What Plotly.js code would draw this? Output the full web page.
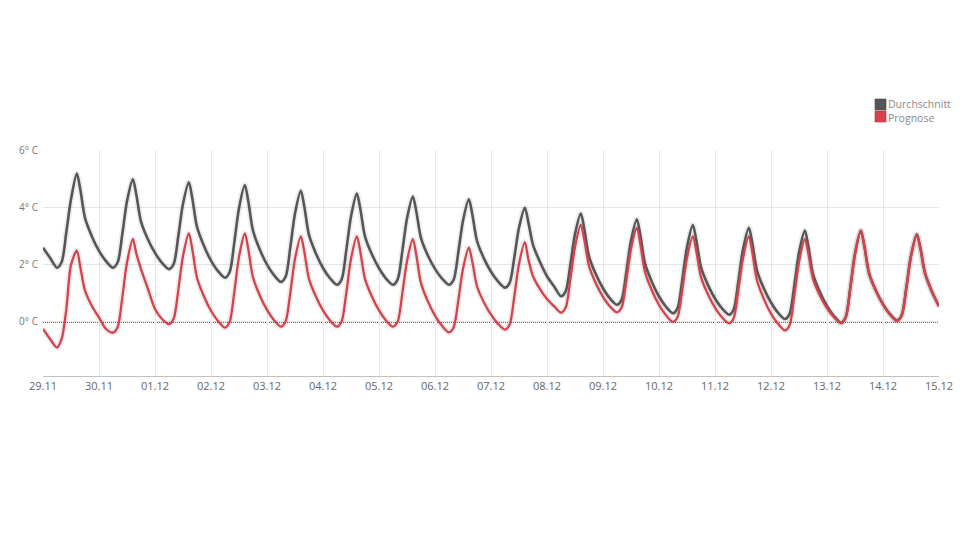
<!DOCTYPE html>
<html>
<head>
<meta charset="utf-8">
<script src="https://cdn.plot.ly/plotly-3.0.1.min.js"></script>
<style>
  html, body { margin: 0; padding: 0; background: #ffffff; }
  #chart { width: 965px; height: 543px; }
</style>
</head>
<body>
<div id="chart"></div>
<script>
// Days shown on the x axis (start of each day)
const days = ['2015-11-29','2015-11-30','2015-12-01','2015-12-02','2015-12-03','2015-12-04','2015-12-05','2015-12-06',
              '2015-12-07','2015-12-08','2015-12-09','2015-12-10','2015-12-11','2015-12-12','2015-12-13','2015-12-14'];
// Sample times within each day
const hours = ['00:00','03:00','06:00','08:00','10:00','12:00','14:30','16:00','18:00','21:00'];
const endTime = '2015-12-15 00:00';

const seriesNames = ['Durchschnitt', 'Prognose'];
const seriesColors = ['#565656', '#d8404c'];

// Durchschnitt (°C), 10 samples per day, plus the final point at 15.12 00:00
const durchschnitt = [
  2.6, 2.25, 1.9, 2.1, 3.15, 4.3, 5.2, 4.64, 3.65, 2.99,
  2.49, 2.13, 1.9, 2.09, 3.08, 4.23, 5.0, 4.46, 3.52, 2.89,
  2.42, 2.07, 1.85, 2.03, 3.01, 4.14, 4.9, 4.33, 3.33, 2.66,
  2.15, 1.78, 1.55, 1.75, 2.79, 3.99, 4.8, 4.22, 3.2, 2.52,
  2.01, 1.64, 1.4, 1.59, 2.62, 3.8, 4.6, 4.04, 3.05, 2.39,
  1.89, 1.53, 1.3, 1.49, 2.52, 3.7, 4.5, 3.96, 3.0, 2.36,
  1.88, 1.52, 1.3, 1.49, 2.48, 3.63, 4.4, 3.87, 2.94, 2.32,
  1.86, 1.52, 1.3, 1.48, 2.44, 3.55, 4.3, 3.77, 2.84, 2.22,
  1.76, 1.42, 1.2, 1.37, 2.26, 3.3, 4.0, 3.5, 2.7, 2.1,
  1.6, 1.25, 0.9, 1.07, 2.0, 3.08, 3.8, 3.26, 2.3, 1.66,
  1.18, 0.82, 0.6, 0.78, 1.74, 2.85, 3.6, 3.04, 2.05, 1.39,
  0.89, 0.53, 0.3, 0.49, 1.48, 2.63, 3.4, 2.86, 1.92, 1.29,
  0.82, 0.47, 0.25, 0.43, 1.41, 2.54, 3.3, 2.76, 1.8, 1.16,
  0.68, 0.32, 0.1, 0.29, 1.28, 2.43, 3.2, 2.65, 1.68, 1.04,
  0.55, 0.2, -0.03, 0.16, 1.2, 2.39, 3.2, 2.67, 1.72, 1.09,
  0.62, 0.27, 0.05, 0.23, 1.2, 2.32, 3.07, 2.6, 1.72, 1.06,
  0.55
];

// Prognose (°C)
const prognose = [
  -0.25, -0.6, -0.9, -0.6, 0.45, 2.0, 2.5, 1.92, 1.1, 0.55,
  0.15, -0.25, -0.38, -0.18, 0.87, 2.08, 2.9, 2.4, 1.85, 1.15,
  0.45, 0.1, -0.08, 0.11, 1.13, 2.31, 3.1, 2.54, 1.55, 0.89,
  0.39, 0.03, -0.2, 0.0, 1.05, 2.28, 3.1, 2.54, 1.56, 0.91,
  0.42, 0.06, -0.17, 0.02, 1.03, 2.21, 3.0, 2.46, 1.51, 0.88,
  0.4, 0.05, -0.17, 0.02, 1.03, 2.21, 3.0, 2.46, 1.51, 0.88,
  0.4, 0.05, -0.17, 0.01, 1.0, 2.13, 2.9, 2.34, 1.36, 0.71,
  0.22, -0.14, -0.37, -0.19, 0.76, 1.86, 2.6, 2.11, 1.25, 0.68,
  0.25, -0.07, -0.27, -0.09, 0.9, 2.03, 2.8, 2.2, 1.6, 1.15,
  0.8, 0.55, 0.32, 0.5, 1.49, 2.63, 3.4, 2.88, 1.96, 1.34,
  0.88, 0.54, 0.33, 0.51, 1.46, 2.56, 3.3, 2.74, 1.75, 1.09,
  0.59, 0.23, 0.0, 0.18, 1.14, 2.25, 3.0, 2.48, 1.57, 0.96,
  0.5, 0.16, -0.05, 0.13, 1.11, 2.24, 3.0, 2.44, 1.45, 0.79,
  0.29, -0.07, -0.3, -0.11, 0.92, 2.1, 2.9, 2.4, 1.51, 0.92,
  0.48, 0.16, -0.05, 0.15, 1.19, 2.39, 3.2, 2.66, 1.7, 1.07,
  0.6, 0.25, 0.03, 0.21, 1.18, 2.3, 3.05, 2.58, 1.7, 1.05,
  0.55
];

const times = [];
days.forEach(d => hours.forEach(h => times.push(d + ' ' + h)));
times.push(endTime);

const series = [durchschnitt, prognose];
const widths = [2.6, 2.3];
const traces = [];
// soft shadow under each line
series.forEach((vals) => {
  traces.push({
    x: times, y: vals, type: 'scatter', mode: 'lines',
    line: { color: 'rgba(0,0,0,0.07)', width: 6, shape: 'spline', smoothing: 0.8 },
    showlegend: false, hoverinfo: 'skip'
  });
});
series.forEach((vals, i) => {
  traces.push({
    x: times, y: vals, type: 'scatter', mode: 'lines',
    name: seriesNames[i],
    line: { color: seriesColors[i], width: widths[i], shape: 'spline', smoothing: 0.8 },
    showlegend: false, hoverinfo: 'skip'
  });
});

const fontFam = '"Open Sans", "DejaVu Sans", sans-serif';

const shapes = [
  { type: 'line', xref: 'paper', x0: 0, x1: 1, yref: 'y', y0: 0, y1: 0,
    line: { color: '#333333', width: 1.6, dash: '1px,1px' }, layer: 'below' }
];
// Legend drawn as colored squares with one two-line text block next to them
const legX0 = 875, legSize = 11, legY = [99, 111];
seriesNames.forEach((n, i) => {
  shapes.push({ type: 'rect', xref: 'paper', yref: 'paper',
    x0: (legX0 - 43) / 896, x1: (legX0 + legSize - 43) / 896,
    y0: (376 - legY[i] - legSize) / 226, y1: (376 - legY[i]) / 226,
    fillcolor: seriesColors[i], line: { color: i === 0 ? '#444' : '#c0303c', width: 0.6 } });
});
const annotations = [{
  xref: 'paper', yref: 'paper',
  x: (legX0 + legSize + 0.5 - 43) / 896, y: (376 - 110.5) / 226,
  xanchor: 'left', yanchor: 'middle', align: 'left', showarrow: false, borderpad: 0,
  text: seriesNames.join('<br>'),
  font: { family: fontFam, size: 10.5, color: '#888888' }
}];

const layout = {
  width: 965, height: 543,
  margin: { l: 43, r: 26, t: 150, b: 167 },
  paper_bgcolor: '#ffffff', plot_bgcolor: '#ffffff',
  showlegend: false,
  font: { family: fontFam, size: 11, color: '#666666' },
  xaxis: {
    type: 'date',
    range: [days[0] + ' 00:00', endTime],
    tick0: days[0], dtick: 86400000,
    tickformat: '%d.%m',
    showgrid: true, gridcolor: '#e6e6e6', gridwidth: 1,
    showline: true, linecolor: '#c0c0c0', linewidth: 1,
    ticks: '', zeroline: false,
    tickfont: { family: fontFam, size: 11, color: '#666666' }
  },
  yaxis: {
    range: [-1.9, 6.03],
    tickvals: [0, 2, 4, 6],
    ticktext: ['0° C', '2° C', '4° C', '6° C'],
    showgrid: true, gridcolor: '#e6e6e6', gridwidth: 1,
    zeroline: false, showline: false, ticks: '',
    ticklabelstandoff: 4,
    tickfont: { family: fontFam, size: 10, color: '#777777' }
  },
  shapes: shapes,
  annotations: annotations
};

Plotly.newPlot('chart', traces, layout, { displayModeBar: false, staticPlot: true });
</script>
</body>
</html>
